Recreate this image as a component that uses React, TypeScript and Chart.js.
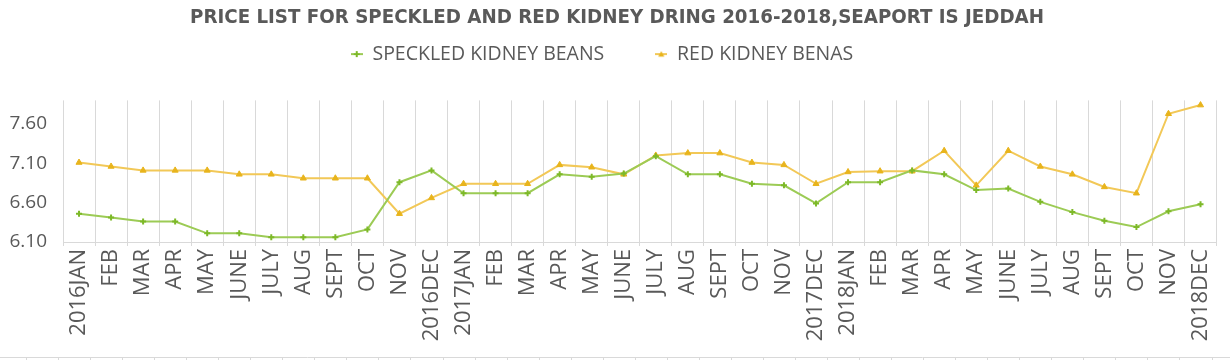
import { useEffect, useRef } from "react";
import { Chart, registerables } from "chart.js";

Chart.register(...registerables);

const TITLE = "PRICE LIST FOR SPECKLED AND RED KIDNEY DRING 2016-2018,SEAPORT IS JEDDAH";

const CATEGORIES = [
  "2016JAN", "FEB", "MAR", "APR", "MAY", "JUNE", "JULY", "AUG", "SEPT", "OCT", "NOV", "2016DEC",
  "2017JAN", "FEB", "MAR", "APR", "MAY", "JUNE", "JULY", "AUG", "SEPT", "OCT", "NOV", "2017DEC",
  "2018JAN", "FEB", "MAR", "APR", "MAY", "JUNE", "JULY", "AUG", "SEPT", "OCT", "NOV", "2018DEC",
];

const SPECKLED_LABEL = "SPECKLED KIDNEY BEANS";
const SPECKLED = [
  6.46, 6.41, 6.36, 6.36, 6.21, 6.21, 6.16, 6.16, 6.16, 6.26, 6.86, 7.01,
  6.72, 6.72, 6.72, 6.96, 6.93, 6.97, 7.19, 6.96, 6.96, 6.84, 6.82, 6.59,
  6.86, 6.86, 7.01, 6.96, 6.76, 6.78, 6.61, 6.48, 6.37, 6.29, 6.49, 6.58,
];

const RED_LABEL = "RED KIDNEY BENAS";
const RED = [
  7.11, 7.06, 7.01, 7.01, 7.01, 6.96, 6.96, 6.91, 6.91, 6.91, 6.46, 6.66,
  6.84, 6.84, 6.84, 7.08, 7.05, 6.96, 7.20, 7.23, 7.23, 7.11, 7.08, 6.84,
  6.99, 7.00, 7.00, 7.26, 6.82, 7.26, 7.06, 6.96, 6.80, 6.72, 7.73, 7.84,
];

const Y_TICKS = [6.1, 6.6, 7.1, 7.6];
const Y_MIN = 6.1;
const Y_MAX = 7.9;

const TEXT = "#595959";
const GRID = "#D9D9D9";
const GREEN_LINE = "#9CCB55";
const GREEN_POINT = "#7DB928";
const GOLD_LINE = "#F2C857";
const GOLD_POINT = "#E8B41C";

const W = 1230;
const H = 360;

function legendIcon(line: string, fill: string, shape: "cross" | "triangle") {
  const c = document.createElement("canvas");
  c.width = 12;
  c.height = 8;
  const g = c.getContext("2d")!;
  g.strokeStyle = line;
  g.lineWidth = 2;
  g.beginPath();
  g.moveTo(0, 4);
  g.lineTo(12, 4);
  g.stroke();
  g.fillStyle = fill;
  g.strokeStyle = fill;
  if (shape === "triangle") {
    g.beginPath();
    g.moveTo(6, 1);
    g.lineTo(9, 6.5);
    g.lineTo(3, 6.5);
    g.closePath();
    g.fill();
  } else {
    g.lineWidth = 2;
    g.beginPath();
    g.moveTo(6, 1);
    g.lineTo(6, 7);
    g.moveTo(3, 4);
    g.lineTo(9, 4);
    g.stroke();
  }
  return c;
}

const LEGEND_PAD = 51;
const LEGEND_BOX_H = 70;
const LEGEND_SHIFT_Y = 37;
const LEGEND_SHIFT_X = 15;

const legendTweak = {
  id: "legendTweak",
  afterInit(chart: any) {
    const leg = chart.legend;
    if (!leg) return;
    const fit = leg.fit;
    leg.fit = function (this: any) {
      fit.call(this);
      this.height = LEGEND_BOX_H;
    };
    const draw = leg.draw;
    leg.draw = function (this: any, ...a: any[]) {
      const ctx = this.ctx;
      ctx.save();
      ctx.translate(-LEGEND_SHIFT_X, -LEGEND_SHIFT_Y);
      draw.apply(this, a);
      ctx.restore();
    };
  },
};

const bottomRule = {
  id: "bottomRule",
  afterDraw(chart: any) {
    const ctx = chart.ctx;
    const x = chart.scales.x;
    const y = chart.height - 3;
    ctx.save();
    ctx.strokeStyle = GRID;
    ctx.lineWidth = 1;
    ctx.beginPath();
    ctx.moveTo(0, y + 0.5);
    ctx.lineTo(chart.width, y + 0.5);
    const step = (x.right - x.left) / CATEGORIES.length;
    for (let i = -1; i <= CATEGORIES.length; i++) {
      const px = Math.round(x.left + i * step - 5) + 0.5;
      ctx.moveTo(px, y);
      ctx.lineTo(px, y + 4);
    }
    ctx.stroke();
    ctx.restore();
  },
};

export default function App() {
  const ref = useRef<HTMLCanvasElement | null>(null);

  useEffect(() => {
    const canvas = ref.current;
    if (!canvas) return;
    const icons = [
      legendIcon(GREEN_LINE, GREEN_POINT, "cross"),
      legendIcon(GOLD_LINE, GOLD_POINT, "triangle"),
    ];
    const chart = new Chart(canvas, {
      type: "line",
      data: {
        labels: CATEGORIES,
        datasets: [
          {
            label: SPECKLED_LABEL,
            data: SPECKLED,
            borderColor: GREEN_LINE,
            backgroundColor: GREEN_POINT,
            pointBorderColor: GREEN_POINT,
            pointBackgroundColor: GREEN_POINT,
            pointStyle: "cross",
            pointRadius: 3,
            pointBorderWidth: 2,
            borderWidth: 2,
            tension: 0,
          },
          {
            label: RED_LABEL,
            data: RED,
            borderColor: GOLD_LINE,
            backgroundColor: GOLD_POINT,
            pointBorderColor: GOLD_POINT,
            pointBackgroundColor: GOLD_POINT,
            pointStyle: "triangle",
            pointRadius: 3.5,
            pointBorderWidth: 1,
            borderWidth: 2,
            tension: 0,
          },
        ],
      },
      options: {
        responsive: false,
        animation: false,
        layout: { padding: { left: 10, right: 6, top: 0, bottom: 0 } },
        plugins: {
          title: {
            display: true,
            text: TITLE,
            color: TEXT,
            font: { family: "'DejaVu Sans Condensed', 'DejaVu Sans'", size: 20.3, weight: "bold" },
            padding: { top: 6, bottom: 0 },
          },
          legend: {
            display: true,
            position: "top",
            labels: {
              color: TEXT,
              font: { family: "'Open Sans'", size: 19.5 },
              usePointStyle: true,
              pointStyleWidth: 12,
              padding: LEGEND_PAD,
              generateLabels: (c: any) => {
                const items = (Chart.defaults.plugins.legend.labels as any).generateLabels(c);
                items.forEach((it: any, i: number) => {
                  it.pointStyle = icons[i];
                });
                return items;
              },
            },
          },
          tooltip: { enabled: false },
        },
        scales: {
          x: {
            type: "category",
            offset: true,
            grid: {
              display: true,
              offset: true,
              color: GRID,
              lineWidth: 1,
              drawTicks: true,
              tickLength: 4,
            },
            border: { display: true, color: GRID, width: 1 },
            ticks: {
              color: TEXT,
              font: { family: "'Open Sans'", size: 22 },
              maxRotation: 90,
              minRotation: 90,
              autoSkip: false,
              padding: 3,
            },
            afterFit: (s: any) => {
              s.height = 118;
            },
          },
          y: {
            min: Y_MIN,
            max: Y_MAX,
            grid: { display: false },
            border: { display: false },
            ticks: {
              color: TEXT,
              font: { family: "'Open Sans'", size: 19 },
              padding: 8,
              callback: (v: any) => Number(v).toFixed(2),
            },
            afterBuildTicks: (s: any) => {
              s.ticks = Y_TICKS.map((v) => ({ value: v }));
            },
            afterFit: (s: any) => {
              s.width = 53;
            },
          },
        },
      },
      plugins: [legendTweak, bottomRule],
    });
    return () => chart.destroy();
  }, []);

  return (
    <div style={{ position: "fixed", left: 0, top: 0, width: W, height: H, background: "#fff" }}>
      <canvas ref={ref} width={W} height={H} style={{ width: W, height: H, display: "block" }} />
    </div>
  );
}
